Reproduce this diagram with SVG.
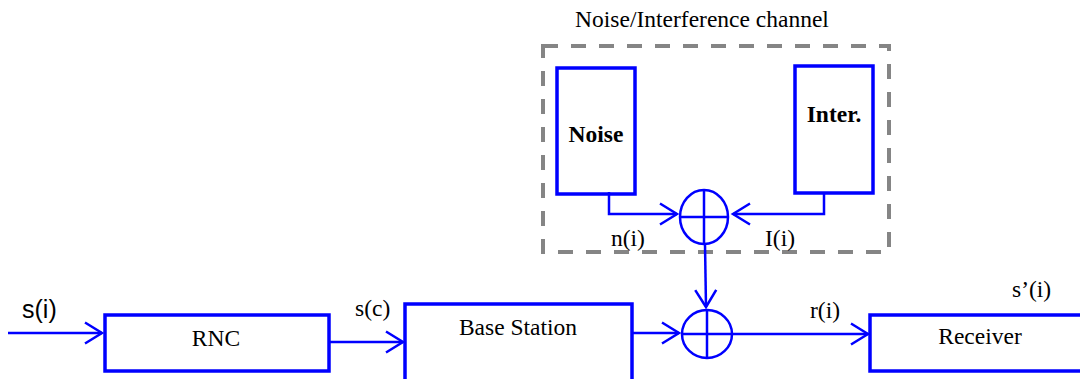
<svg xmlns="http://www.w3.org/2000/svg" width="1080" height="379" viewBox="0 0 1080 379">
  <style>
    .box { fill: #ffffff; stroke: #0000ff; stroke-width: 3.5; }
    .wire { fill: none; stroke: #0000ff; stroke-width: 2.5; }
    .sum { fill: #ffffff; stroke: #0000ff; stroke-width: 2.5; }
    .frame { fill: none; stroke: #858585; stroke-width: 4; stroke-dasharray: 15 13; }
    .serif { font-family: "Liberation Serif", "Times New Roman", serif; font-size: 23.5px; fill: #000000; }
    .bold { font-weight: bold; }
    .sans { font-family: "Liberation Sans", Arial, sans-serif; font-size: 25px; fill: #000000; }
  </style>
  <defs>
    <marker id="chev" markerUnits="userSpaceOnUse" markerWidth="24" markerHeight="26" viewBox="-20 -12 24 24" refX="0" refY="0" orient="auto">
      <path d="M -17 -10.5 L 0 0 L -17 10.5" fill="none" stroke="#0000ff" stroke-width="2.5"/>
    </marker>
  </defs>

  <!-- channel frame -->
  <g id="channel">
    <rect class="frame" x="543" y="46" width="346" height="206"/>
    <text class="serif" x="702" y="27" text-anchor="middle">Noise/Interference channel</text>
  </g>

  <g id="noise">
    <rect class="box" x="557" y="68" width="78" height="126"/>
    <text class="serif bold" x="596" y="142" text-anchor="middle">Noise</text>
  </g>

  <g id="inter">
    <rect class="box" x="795" y="66" width="78" height="127"/>
    <text class="serif bold" x="834" y="122" text-anchor="middle">Inter.</text>
  </g>

  <g id="sum-channel">
    <ellipse class="sum" cx="704" cy="217" rx="24" ry="27"/>
    <line class="wire" x1="680" y1="217" x2="728" y2="217"/>
    <line class="wire" x1="704" y1="190" x2="704" y2="244"/>
  </g>

  <g id="sum-link">
    <ellipse class="sum" cx="707" cy="334" rx="25" ry="24"/>
    <line class="wire" x1="682" y1="334" x2="732" y2="334"/>
    <line class="wire" x1="707" y1="310" x2="707" y2="358"/>
  </g>

  <g id="rnc">
    <rect class="box" x="105" y="315" width="224" height="56"/>
    <text class="serif" x="216" y="346" text-anchor="middle">RNC</text>
  </g>

  <g id="base-station">
    <rect class="box" x="405" y="304" width="227" height="90"/>
    <text class="serif" x="518" y="335" text-anchor="middle">Base Station</text>
  </g>

  <g id="receiver">
    <rect class="box" x="870" y="315" width="230" height="56"/>
    <text class="serif" x="980" y="344" text-anchor="middle">Receiver</text>
  </g>

  <!-- connectors -->
  <g id="connectors">
    <path class="wire" d="M 8 333 L 102 333" marker-end="url(#chev)"/>
    <path class="wire" d="M 329 342 L 403 342" marker-end="url(#chev)"/>
    <path class="wire" d="M 632 333 L 679 333" marker-end="url(#chev)"/>
    <path class="wire" d="M 732 334 L 868 334" marker-end="url(#chev)"/>
    <path class="wire" d="M 609 192 L 609 214 L 677 214" marker-end="url(#chev)"/>
    <path class="wire" d="M 824 192 L 824 214 L 733 214" marker-end="url(#chev)"/>
    <path class="wire" d="M 705 244 L 706 307" marker-end="url(#chev)"/>
  </g>

  <!-- signal labels -->
  <g id="labels">
    <text class="sans" x="22" y="318">s(i)</text>
    <text class="serif" x="355" y="316">s(c)</text>
    <text class="serif" x="611" y="246">n(i)</text>
    <text class="serif" x="765" y="246">I(i)</text>
    <text class="serif" x="810" y="318">r(i)</text>
    <text class="serif" x="1012" y="297">s’(i)</text>
  </g>
</svg>
